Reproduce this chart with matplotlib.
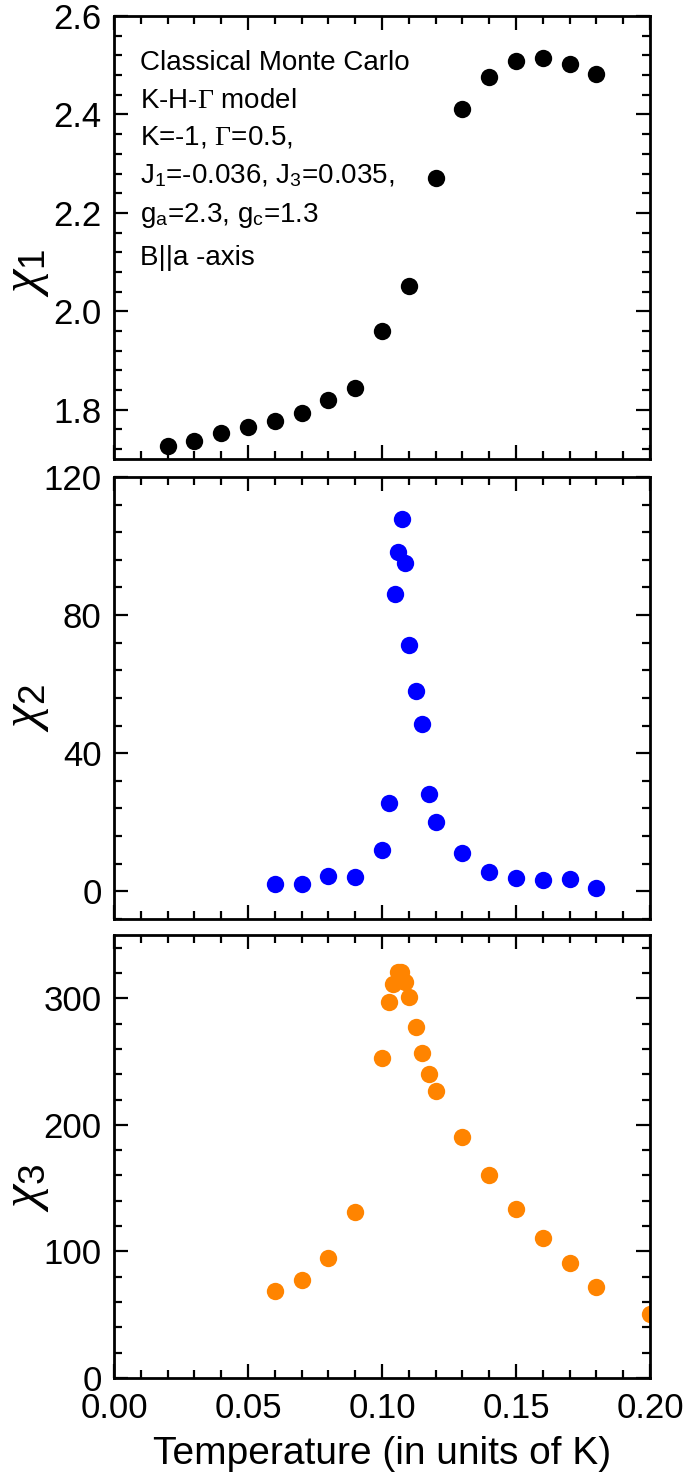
import numpy as np
import matplotlib
matplotlib.use("Agg")
import matplotlib.pyplot as plt
from matplotlib.ticker import MultipleLocator, AutoMinorLocator

plt.rcParams['font.family'] = ['Liberation Sans', 'DejaVu Sans']
plt.rcParams['mathtext.fontset'] = 'custom'
plt.rcParams['mathtext.rm'] = 'Liberation Serif'
plt.rcParams['mathtext.it'] = 'Liberation Serif:italic'
plt.rcParams['mathtext.sf'] = 'Liberation Sans'

# chi_1 (black)
t1 = [0.02, 0.03, 0.04, 0.05, 0.06, 0.07, 0.08, 0.09, 0.10, 0.11,
      0.12, 0.13, 0.14, 0.15, 0.16, 0.17, 0.18]
chi1 = [1.727, 1.737, 1.752, 1.764, 1.778, 1.794, 1.820, 1.844, 1.960, 2.052,
        2.271, 2.412, 2.477, 2.509, 2.515, 2.503, 2.483]

# chi_2 (blue)
t2 = [0.06, 0.07, 0.08, 0.09, 0.10, 0.1025, 0.105, 0.106, 0.1075, 0.1085,
      0.11, 0.1125, 0.115, 0.1175, 0.12, 0.13, 0.14, 0.15, 0.16, 0.17, 0.18]
chi2 = [2.2, 2.2, 4.4, 4.1, 12.0, 25.6, 86.1, 98.2, 107.7, 95.1,
        71.3, 58.0, 48.4, 28.1, 20.0, 11.0, 5.6, 4.0, 3.2, 3.5, 1.1]

# chi_3 (orange)
t3 = [0.06, 0.07, 0.08, 0.09, 0.10, 0.1025, 0.104, 0.106, 0.107, 0.1085,
      0.11, 0.1125, 0.115, 0.1175, 0.12, 0.13, 0.14, 0.15, 0.16, 0.17, 0.18, 0.20]
chi3 = [69, 77.6, 95, 130.8, 252.8, 296.8, 311, 320.6, 320.6, 312.6,
        300.8, 277, 256.8, 240, 227, 190.5, 160, 133.7, 110.3, 90.5, 71.8, 50.4]

info_lines = [
    "Classical Monte Carlo",
    r"K-H-$\Gamma$ model",
    r"K=-1, $\Gamma$=0.5,",
    r"J$_\mathsf{1}$=-0.036, J$_\mathsf{3}$=0.035,",
    r"g$_\mathsf{a}$=2.3, g$_\mathsf{c}$=1.3",
    "B||a -axis",
]

W, H = 685, 1478
fig = plt.figure(figsize=(W / 100, H / 100), dpi=100)

left, right = 114 / W, 650 / W
panels = [(16, 459), (477, 919), (935, 1378)]
axes = []
for top, bot in panels:
    ax = fig.add_axes([left, 1 - bot / H, right - left, (bot - top) / H])
    axes.append(ax)
ax1, ax2, ax3 = axes

ms = 12.5
ax1.plot(t1, chi1, 'o', color='black', ms=ms, mec='none')
ax2.plot(t2, chi2, 'o', color='#0000ff', ms=ms, mec='none')
ax3.plot(t3, chi3, 'o', color='#ff8400', ms=ms, mec='none')

ax1.set_ylim(1.7, 2.6)
ax1.yaxis.set_major_locator(MultipleLocator(0.2))
ax2.set_ylim(-8, 120)
ax2.yaxis.set_major_locator(MultipleLocator(40))
ax3.set_ylim(0, 350)
ax3.yaxis.set_major_locator(MultipleLocator(100))

labels = [r"$\chi_\mathsf{1}$", r"$\chi_\mathsf{2}$", r"$\chi_\mathsf{3}$"]
label_y = [0.42, 0.477, 0.43]
for ax, lab, ly in zip(axes, labels, label_y):
    ax.set_xlim(0, 0.2)
    ax.xaxis.set_major_locator(MultipleLocator(0.05))
    ax.xaxis.set_minor_locator(AutoMinorLocator(5))
    ax.yaxis.set_minor_locator(AutoMinorLocator(5))
    ax.tick_params(which='both', direction='in', top=True, right=True,
                   labelsize=25, width=1.6)
    ax.tick_params(which='major', length=10)
    ax.tick_params(which='minor', length=6)
    ax.tick_params(axis='y', pad=9)
    ax.tick_params(axis='x', pad=10)
    for s in ax.spines.values():
        s.set_linewidth(2)
    ax.set_ylabel(lab, fontsize=38)
    ax.yaxis.set_label_coords(-0.118, ly)

ax1.tick_params(labelbottom=False)
ax2.tick_params(labelbottom=False)
ax3.xaxis.set_major_formatter(matplotlib.ticker.FormatStrFormatter('%.2f'))
ax3.set_xlabel("Temperature (in units of K)", fontsize=28, labelpad=8)

# annotation block in top panel
baselines = [70, 108, 145, 183, 222, 265]
for txt, yb in zip(info_lines, baselines):
    ax1.text((140 - 114) / 536, (459 - yb) / 443, txt, transform=ax1.transAxes,
             fontsize=20, va='baseline', ha='left')

fig.savefig("out.png", dpi=100)
